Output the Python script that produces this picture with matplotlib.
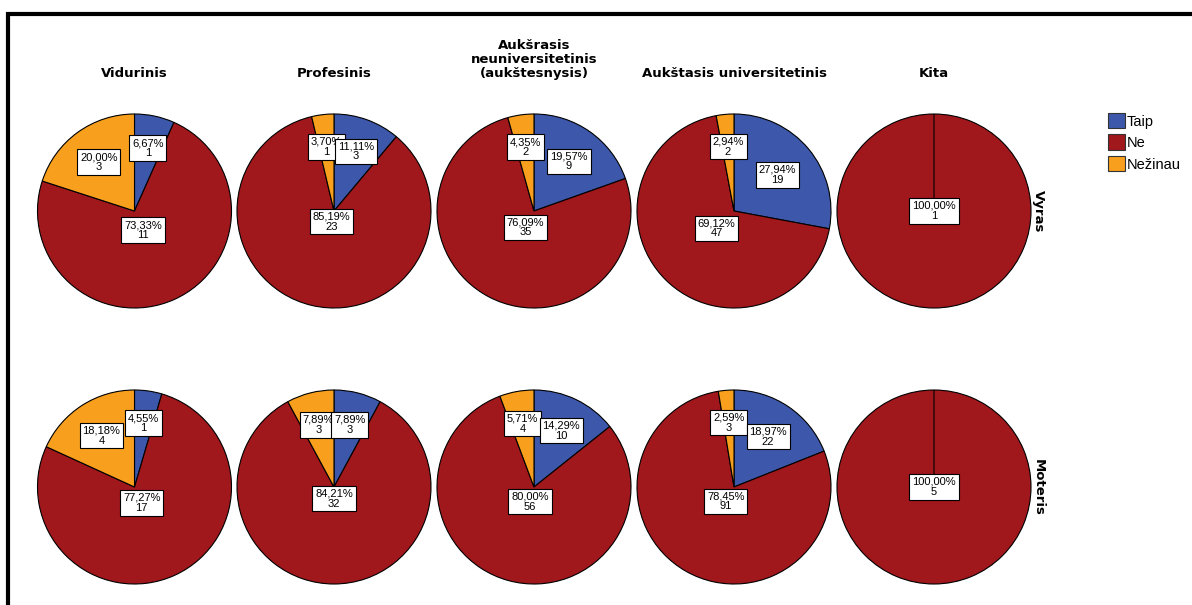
import numpy as np
import matplotlib
matplotlib.use("Agg")
import matplotlib.pyplot as plt
from matplotlib.patches import Patch, Rectangle

# ---- data -------------------------------------------------------------
education = ["Vidurinis", "Profesinis",
             "Aukšrasis\nneuniversitetinis\n(aukštesnysis)",
             "Aukštasis universitetinis", "Kita"]
genders = ["Vyras", "Moteris"]
answers = ["Taip", "Ne", "Nežinau"]

# counts per education level: [Taip, Ne, Nežinau]
vyras_counts = [[1, 11, 3], [3, 23, 1], [9, 35, 2], [19, 47, 2], [0, 1, 0]]
moteris_counts = [[1, 17, 4], [3, 32, 3], [10, 56, 4], [22, 91, 3], [0, 5, 0]]

answer_colors = ["#3D58AB", "#A0171C", "#F8A01E"]

# ---- layout (pixels) --------------------------------------------------
W, H = 1192, 605
col_x = [134.5, 334, 534, 734, 934]
row_y = [211, 487]
R = 97.0
S = R * 1.05

fig = plt.figure(figsize=(W / 100, H / 100), dpi=100)
fig.patch.set_facecolor("white")


def fx(px):
    return px / W


def fy(py):
    return 1 - py / H


# frame drawn along the top and left of the figure
fig.add_artist(Rectangle((fx(8), fy(H + 50)), 2.0, (H + 50 - 13.5) / H,
                         transform=fig.transFigure, fill=False,
                         edgecolor="black", linewidth=3.0,
                         joinstyle="miter"))


def fmt_label(pct, n):
    return f"{pct:.2f}".replace(".", ",") + "%\n" + str(n)


for r, counts_row in enumerate([vyras_counts, moteris_counts]):
    for c, counts in enumerate(counts_row):
        cx, cy = col_x[c], row_y[r]
        ax = fig.add_axes([fx(cx - S), fy(cy + S), 2 * S / W, 2 * S / H])
        wedges, _ = ax.pie(counts, colors=answer_colors, startangle=90,
                           counterclock=False, radius=1.0,
                           wedgeprops=dict(edgecolor="black", linewidth=0.8))
        ax.set_xlim(-1.05, 1.05)
        ax.set_ylim(-1.05, 1.05)
        ax.set_aspect("equal")
        ax.axis("off")

        total = sum(counts)
        # labels sit at each sector's centroid; Taip drawn last (on top)
        for k in [2, 1, 0]:
            n = counts[k]
            if n == 0:
                continue
            w = wedges[k]
            t1, t2 = np.radians(w.theta1), np.radians(w.theta2)
            mid = (t1 + t2) / 2
            half = (t2 - t1) / 2
            rr = 2 * np.sin(half) / (3 * half)
            ax.text(rr * np.cos(mid), rr * np.sin(mid),
                    fmt_label(100 * n / total, n),
                    ha="center", va="center", fontsize=8,
                    family="Liberation Sans", linespacing=1.0,
                    zorder=5 + (2 - k),
                    bbox=dict(boxstyle="square,pad=0.25", facecolor="white",
                              edgecolor="black", linewidth=0.8))

# column titles
for c, title in enumerate(education):
    fig.text(fx(col_x[c]), fy(77), title, ha="center", va="baseline",
             fontsize=9.5, fontweight="bold", family="DejaVu Sans",
             linespacing=1.12, multialignment="center")

# row titles
for r, g in enumerate(genders):
    fig.text(fx(1038), fy(row_y[r]), g, ha="center", va="center",
             rotation=270, fontsize=9.5, fontweight="bold",
             family="DejaVu Sans")

# legend
handles = [Patch(facecolor=col, edgecolor="#333333", linewidth=0.8)
           for col in answer_colors]
fig.legend(handles, answers, loc="upper left",
           bbox_to_anchor=(fx(1108), fy(113)), frameon=False,
           prop={"family": "Liberation Sans", "size": 10.5},
           handlelength=1.15, handleheight=1.25, handletextpad=0.12,
           labelspacing=0.4, borderpad=0.0, borderaxespad=0.0)

fig.savefig("out.png", dpi=100, facecolor="white")
